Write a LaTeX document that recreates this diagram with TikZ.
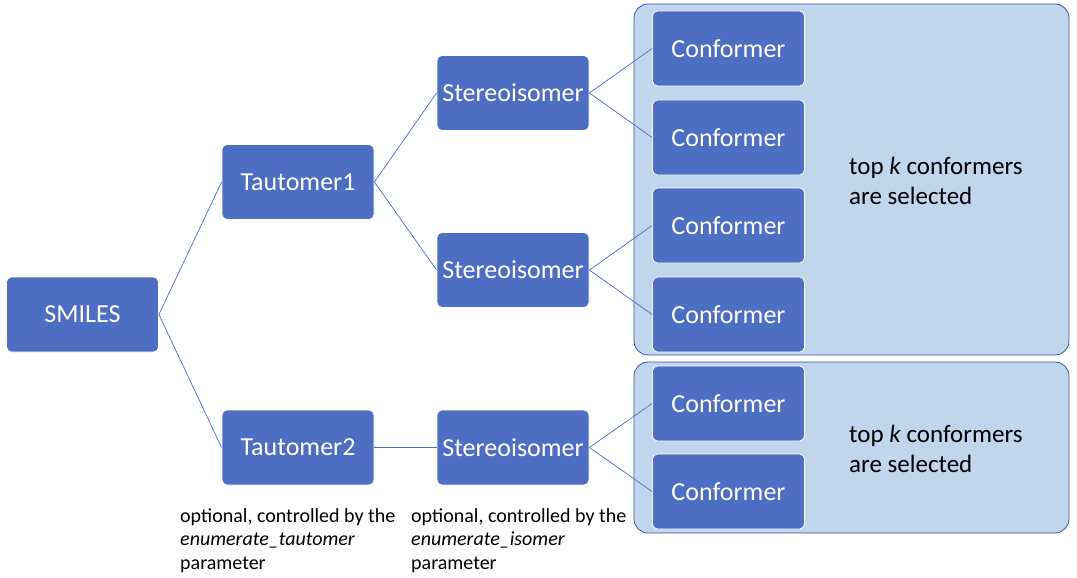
\documentclass[tikz,border=0pt]{standalone}
\usepackage{fontspec}
\setmainfont{Carlito}
\definecolor{boxblue}{HTML}{4E6EC3}
\definecolor{grpfill}{HTML}{C1D5EC}
\definecolor{grpline}{HTML}{3A5A9E}
\definecolor{linkblue}{HTML}{4A6DBF}
\begin{document}
\begin{tikzpicture}[x=1pt,y=-1pt,
  nodebox/.style={fill=boxblue,draw=white,line width=0.8pt,rounded corners=5pt,minimum width=152pt,minimum height=75pt,text=white,font=\fontsize{26}{30}\selectfont,inner sep=0pt},
  grpbox/.style={fill=grpfill,draw=grpline,line width=0.8pt,rounded corners=14pt},
  link/.style={draw=linkblue,line width=0.7pt},
  grptext/.style={font=\fontsize{25}{30}\selectfont,align=left,anchor=north west,inner sep=0pt},
  captext/.style={font=\fontsize{20}{23.5}\selectfont,align=left,anchor=north west,inner sep=0pt}]
\useasboundingbox (0,0) rectangle (1077,578);
\draw[grpbox] (634,4) rectangle (1069,355);
\draw[grpbox] (634,362) rectangle (1069,533);
\node[nodebox] (smiles) at (82.5,314.5) {SMILES};
\node[nodebox] (t1) at (298,182) {Tautomer1};
\node[nodebox] (t2) at (298,447.5) {Tautomer2};
\node[nodebox] (s1) at (513,93) {Stereoisomer};
\node[nodebox] (s2) at (513,270) {Stereoisomer};
\node[nodebox] (s3) at (513,447.5) {Stereoisomer};
\node[nodebox] (c1) at (728.5,48.5) {Conformer};
\node[nodebox] (c2) at (728.5,137.5) {Conformer};
\node[nodebox] (c3) at (728.5,225.5) {Conformer};
\node[nodebox] (c4) at (728.5,314.5) {Conformer};
\node[nodebox] (c5) at (728.5,403.5) {Conformer};
\node[nodebox] (c6) at (728.5,491.5) {Conformer};
\node[grptext] (g1) at (849,157) {top \textit{k} conformers\\are selected};
\node[grptext] (g2) at (849,425) {top \textit{k} conformers\\are selected};
\node[captext] (cap1) at (180,508) {optional, controlled by the\\\textit{enumerate\_tautomer}\\parameter};
\node[captext] (cap2) at (411,508) {optional, controlled by the\\\textit{enumerate\_isomer}\\parameter};
\draw[link] (smiles.east) -- (t1.west);
\draw[link] (smiles.east) -- (t2.west);
\draw[link] (t1.east) -- (s1.west);
\draw[link] (t1.east) -- (s2.west);
\draw[link] (t2.east) -- (s3.west);
\draw[link] (s1.east) -- (c1.west);
\draw[link] (s1.east) -- (c2.west);
\draw[link] (s2.east) -- (c3.west);
\draw[link] (s2.east) -- (c4.west);
\draw[link] (s3.east) -- (c5.west);
\draw[link] (s3.east) -- (c6.west);
\end{tikzpicture}
\end{document}
